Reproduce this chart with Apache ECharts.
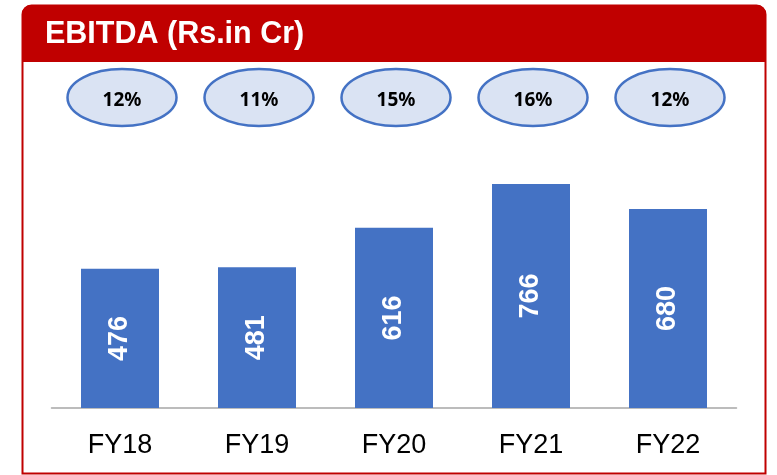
<!DOCTYPE html>
<html>
<head>
<meta charset="utf-8">
<script src="https://cdn.jsdelivr.net/npm/echarts@6/dist/echarts.min.js"></script>
<style>html,body{margin:0;padding:0;background:#fff}#c{width:777px;height:475px}</style>
</head>
<body>
<div id="c"></div>
<script>
const categories = ['FY18', 'FY19', 'FY20', 'FY21', 'FY22'];
const ebitda = [476, 481, 616, 766, 680];
const margins = ['12%', '11%', '15%', '16%', '12%'];
const titleText = 'EBITDA (Rs.in Cr)';

const narrow = "'Liberation Sans Narrow', 'Arial Narrow', 'Liberation Sans', Arial, sans-serif";
const chart = echarts.init(document.getElementById('c'), null, {renderer: 'canvas'});
chart.setOption({
  animation: false,
  backgroundColor: '#ffffff',
  grid: {left: 51.5, right: 40.5, top: 115.5, bottom: 67, containLabel: false},
  xAxis: {
    type: 'category',
    data: categories,
    axisTick: {show: false},
    axisLine: {lineStyle: {color: '#A6A6A6', width: 1.5}},
    axisLabel: {color: '#000', fontSize: 27, fontFamily: narrow, margin: 24}
  },
  yAxis: {type: 'value', min: 0, max: 1000, show: false, splitLine: {show: false}},
  graphic: [
    {type: 'rect', z: 0, shape: {x: 22.5, y: 5.5, width: 743, height: 468, r: [9, 9, 0, 0]},
     style: {fill: 'none', stroke: '#C00000', lineWidth: 2}},
    {type: 'rect', z: 1, shape: {x: 22, y: 5, width: 744, height: 57, r: [9, 9, 0, 0]},
     style: {fill: '#C00000'}},
    {type: 'text', z: 2, x: 45, y: 35,
     style: {text: titleText, fill: '#fff', font: "bold 30.5px 'Liberation Sans', Arial, sans-serif", textVerticalAlign: 'middle'}}
  ],
  series: [
    {
      type: 'bar',
      data: ebitda,
      barWidth: 78,
      itemStyle: {color: '#4472C4'},
      label: {show: true, position: 'inside', rotate: 90, color: '#fff', fontWeight: 'bold', fontSize: 27, fontFamily: narrow}
    },
    {
      type: 'custom',
      data: margins.map((m, i) => [i, m]),
      renderItem: function (params, api) {
        const x = api.coord([api.value(0), 0])[0] + 2;
        const y = 97.5;
        return {
          type: 'group',
          children: [
            {type: 'ellipse', shape: {cx: x, cy: y, rx: 54.5, ry: 28.5},
             style: {fill: '#DAE3F3', stroke: '#4472C4', lineWidth: 2.5}},
            {type: 'text', x: x, y: y + 3,
             style: {text: margins[params.dataIndex], fill: '#000', font: "bold 19px 'Noto Sans', sans-serif", align: 'center', verticalAlign: 'middle'}}
          ]
        };
      }
    }
  ]
});
</script>
</body>
</html>
